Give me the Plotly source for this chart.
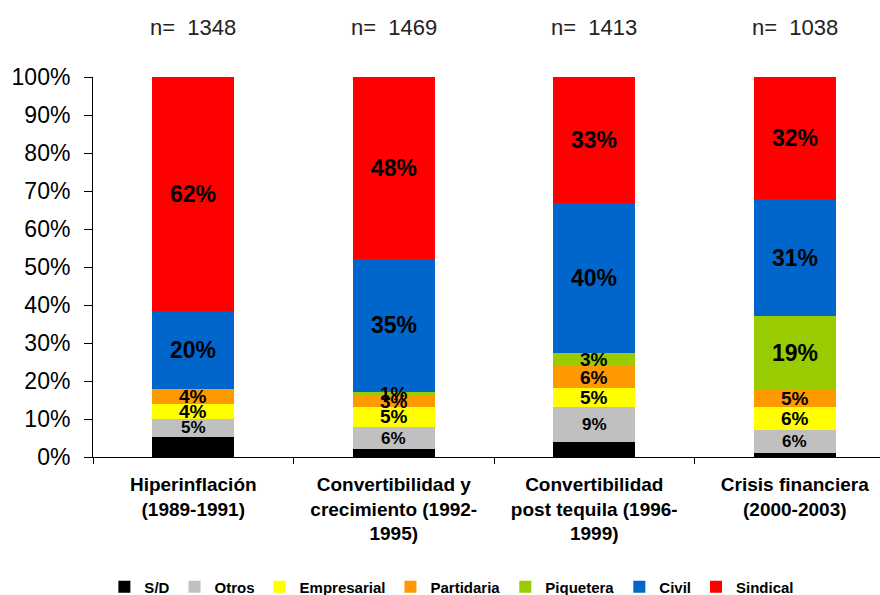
import plotly.graph_objects as go

categories = ["Hiperinflación<br>(1989-1991)",
              "Convertibilidad y<br>crecimiento (1992-<br>1995)",
              "Convertibilidad<br>post tequila (1996-<br>1999)",
              "Crisis financiera<br>(2000-2003)"]
n_counts = [1348, 1469, 1413, 1038]

series_names = ["S/D", "Otros", "Empresarial", "Partidaria", "Piquetera", "Civil", "Sindical"]
sd = [5.3, 2.1, 4.0, 1.0]
otros = [4.7, 5.8, 9.1, 6.1]
empresarial = [3.9, 5.3, 5.0, 6.0]
partidaria = [3.9, 3.0, 5.8, 4.7]
piquetera = [0.0, 1.0, 3.4, 19.3]
civil = [20.5, 34.9, 39.5, 30.7]
sindical = [61.7, 47.9, 33.2, 32.2]
label_values = {
    "S/D": [None, None, None, None],
    "Otros": [5, 6, 9, 6],
    "Empresarial": [4, 5, 5, 6],
    "Partidaria": [4, 3, 6, 5],
    "Piquetera": [None, 1, 3, 19],
    "Civil": [20, 35, 40, 31],
    "Sindical": [62, 48, 33, 32],
}
colors = ["#000000", "#C0C0C0", "#FFFF00", "#FF9900", "#99CC00", "#0066CC", "#FF0000"]

series = [sd, otros, empresarial, partidaria, piquetera, civil, sindical]
FONT = "Liberation Sans, Arial"

fig = go.Figure()
for name, vals, col in zip(series_names, series, colors):
    fig.add_trace(go.Bar(x=categories, y=vals, name=name, marker_color=col,
                         marker_line_width=0))

annotations = []
cum = [0.0] * 4
for name, vals in zip(series_names, series):
    for i, v in enumerate(vals):
        lab = label_values[name][i]
        if lab is not None and v > 0:
            size = 23 if lab >= 10 else 19
            if name == "Otros":
                size = 17
            annotations.append(dict(x=categories[i], y=cum[i] + v / 2, xref="x", yref="y",
                                    text=f"<b>{lab}%</b>", showarrow=False, yanchor="middle",
                                    font=dict(family=FONT, size=size, color="#000000")))
        cum[i] += v

for i, n in enumerate(n_counts):
    annotations.append(dict(x=categories[i], y=1.13, xref="x", yref="paper", yanchor="middle",
                            text=f"n=  {n}", showarrow=False,
                            font=dict(family=FONT, size=22, color="#222222")))

fig.update_layout(
    barmode="stack",
    bargap=0.59,
    width=880, height=595,
    margin=dict(l=93, r=0, t=77, b=138, autoexpand=False),
    plot_bgcolor="white", paper_bgcolor="white",
    annotations=annotations,
    showlegend=True,
    legend=dict(orientation="h", x=0.456, xanchor="center", y=0.0134, yanchor="middle", yref="container",
                font=dict(family=FONT, size=15, color="#000000", weight="bold"),
                traceorder="normal", itemwidth=30, tracegroupgap=0),
    font=dict(family=FONT, color="#000000"),
)
fig.update_yaxes(range=[0, 100], tickvals=list(range(0, 101, 10)),
                 ticktext=[f"{v}%" for v in range(0, 101, 10)], automargin=False,
                 showgrid=False, showline=True, linecolor="#000000", linewidth=1,
                 ticks="outside", ticklen=8, tickcolor="#000000", ticklabelstandoff=9,
                 tickfont=dict(size=23, family=FONT, color="#000000"), zeroline=False)
fig.update_xaxes(range=[-0.5, 3.425], showgrid=False, showline=True, linecolor="#000000", linewidth=1,
                 ticks="outside", ticklen=6, tickcolor="#000000", tickson="boundaries",
                 automargin=False, ticklabelstandoff=10,
                 tickfont=dict(size=19, family=FONT, color="#000000", weight="bold"))

fig.write_html("out.html", config={"displayModeBar": False},
               post_script="document.body.style.margin='0px';")
